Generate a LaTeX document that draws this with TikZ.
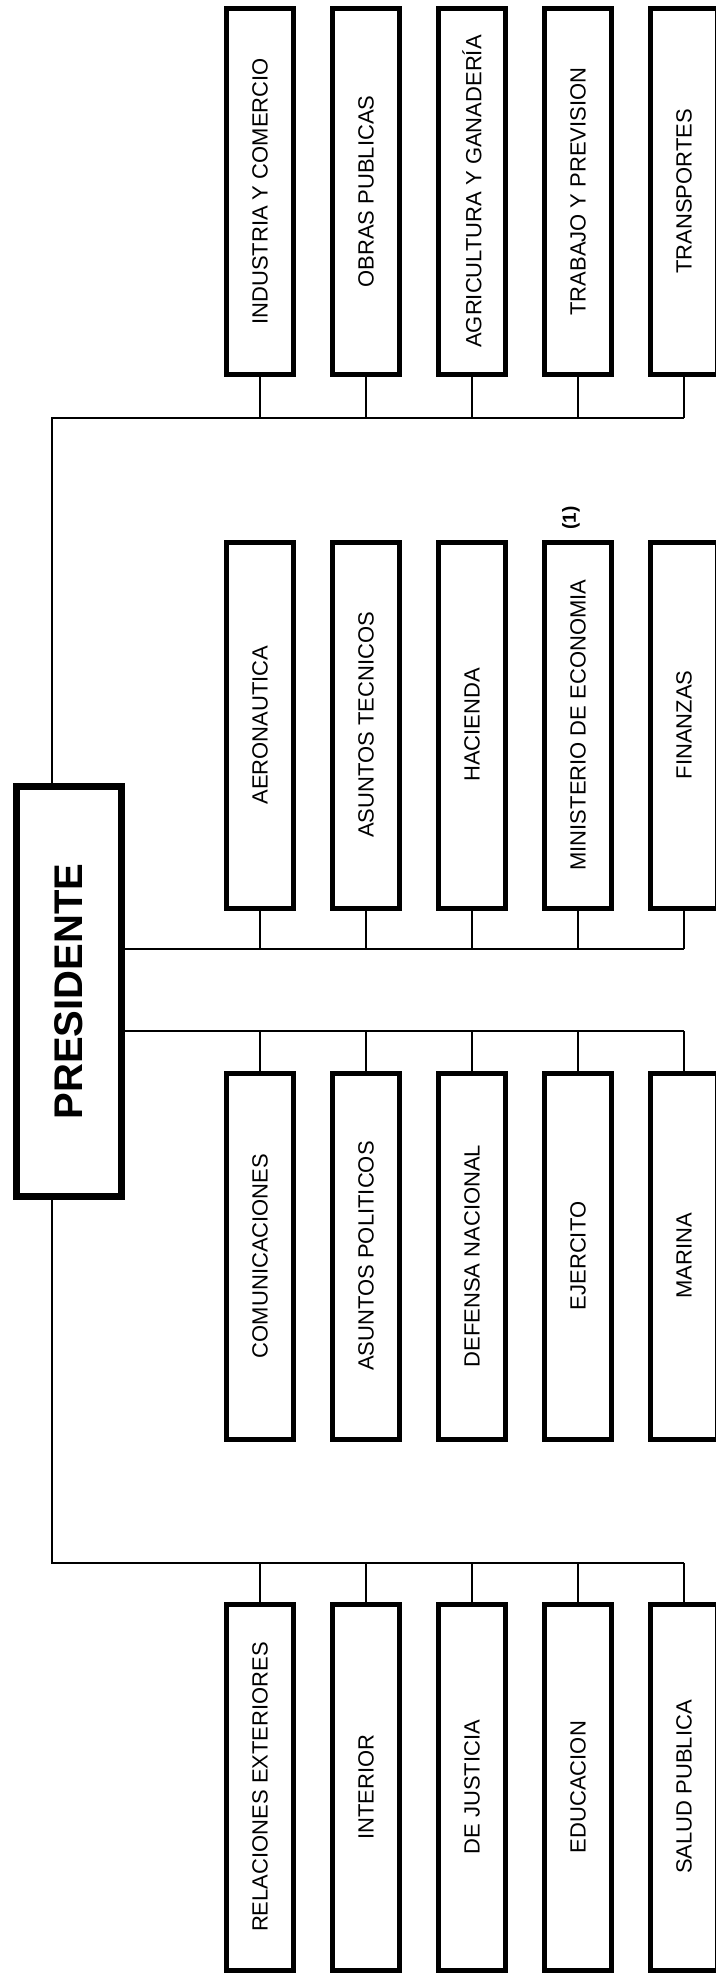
\documentclass[tikz,border=0pt]{standalone}
\usepackage{fontspec}
\setmainfont{Liberation Sans}
\usetikzlibrary{backgrounds}
\begin{document}
\begin{tikzpicture}[x=1pt,y=-1pt,
  dept/.style={draw, line width=5pt, fill=white, rotate=90, minimum width=366pt, minimum height=67pt, inner sep=0pt, font=\fontsize{22}{24}\selectfont},
  pres/.style={draw, line width=7pt, fill=white, rotate=90, minimum width=410pt, minimum height=105pt, inner sep=0pt, font=\fontsize{40}{44}\selectfont\bfseries},
  conn/.style={line width=2pt},
  notelabel/.style={rotate=90, inner sep=0pt, font=\fontsize{19}{21}\selectfont\bfseries}]
\useasboundingbox (0,0) rectangle (715,1977);

% President
\node[pres] (p) at (69,991.5) {PRESIDENTE};

% Group 1
\node[dept] (i1) at (260,191.5) {INDUSTRIA Y COMERCIO};
\node[dept] (i2) at (366,191.5) {OBRAS PUBLICAS};
\node[dept] (i3) at (472,191.5) {AGRICULTURA Y GANADERÍA};
\node[dept] (i4) at (578,191.5) {TRABAJO Y PREVISION};
\node[dept] (i5) at (684,191.5) {TRANSPORTES};

% Group 2
\node[dept] (a1) at (260,725) {AERONAUTICA};
\node[dept] (a2) at (366,725) {ASUNTOS TECNICOS};
\node[dept] (a3) at (472,725) {HACIENDA};
\node[dept] (a4) at (578,725) {MINISTERIO DE ECONOMIA};
\node[dept] (a5) at (684,725) {FINANZAS};
\node[notelabel] (note) at (571,518) {(1)};

% Group 3
\node[dept] (c1) at (260,1256) {COMUNICACIONES};
\node[dept] (c2) at (366,1256) {ASUNTOS POLITICOS};
\node[dept] (c3) at (472,1256) {DEFENSA NACIONAL};
\node[dept] (c4) at (578,1256) {EJERCITO};
\node[dept] (c5) at (684,1256) {MARINA};

% Group 4
\node[dept] (r1) at (260,1787) {RELACIONES EXTERIORES};
\node[dept] (r2) at (366,1787) {INTERIOR};
\node[dept] (r3) at (472,1787) {DE JUSTICIA};
\node[dept] (r4) at (578,1787) {EDUCACION};
\node[dept] (r5) at (684,1787) {SALUD PUBLICA};

% bus coordinates
\coordinate (t1) at (52,418);
\coordinate (t2) at (100,949);
\coordinate (t3) at (100,1031);
\coordinate (t4) at (52,1563);

\begin{scope}[on background layer]
  \draw[conn] (p.center -| t1) -- (t1) -- (t1 -| i5.center);
  \draw[conn] (p.center -| t4) -- (t4) -- (t4 -| r5.center);
  \draw[conn] (t2) -- (t2 -| a5.center);
  \draw[conn] (t3) -- (t3 -| c5.center);
  \foreach \n in {i1,i2,i3,i4,i5} \draw[conn] (\n.center) -- (\n.center |- t1);
  \foreach \n in {a1,a2,a3,a4,a5} \draw[conn] (\n.center) -- (\n.center |- t2);
  \foreach \n in {c1,c2,c3,c4,c5} \draw[conn] (\n.center) -- (\n.center |- t3);
  \foreach \n in {r1,r2,r3,r4,r5} \draw[conn] (\n.center) -- (\n.center |- t4);
\end{scope}
\end{tikzpicture}
\end{document}
